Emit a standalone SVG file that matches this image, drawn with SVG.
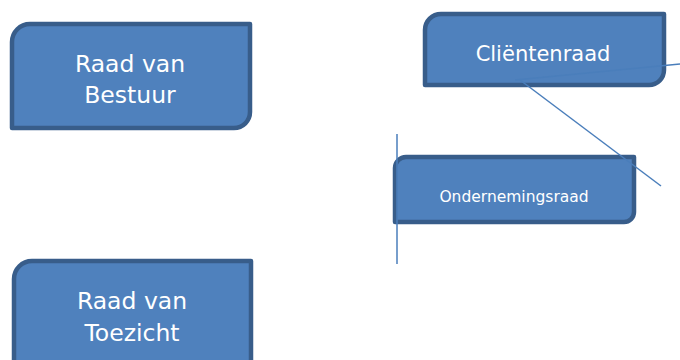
<svg xmlns="http://www.w3.org/2000/svg" width="680" height="360" viewBox="0 0 680 360">
<style>
.box{fill:#4F81BD;stroke:#385D8A;stroke-width:4.5;stroke-linejoin:round}
.t{font-family:"DejaVu Sans",Verdana,sans-serif;fill:#FFFFFF;text-anchor:middle}
.c{stroke:#4A7EBB;stroke-width:1.5;fill:none}
</style>
<rect width="680" height="360" fill="#FFFFFF"/>
<g id="raad-van-bestuur">
<path class="box" d="M12 128 L12 42 A18 18 0 0 1 30 24 L250 24 L250 112 A16 16 0 0 1 234 128 Z"/>
<text class="t" font-size="23.5" x="130" y="72">Raad van</text>
<text class="t" font-size="23.5" x="130" y="103">Bestuur</text>
</g>
<g id="raad-van-toezicht">
<path class="box" d="M14 380 L14 279 A18 18 0 0 1 32 261 L251 261 L251 380 Z"/>
<text class="t" font-size="23.5" x="132" y="309">Raad van</text>
<text class="t" font-size="23.5" x="132" y="341">Toezicht</text>
</g>
<g id="clientenraad">
<path class="box" d="M425 85 L425 30 A16 16 0 0 1 441 14 L664 14 L664 70 A15 15 0 0 1 649 85 Z"/>
<text class="t" font-size="21" x="543" y="61">Cliëntenraad</text>
</g>
<g id="ondernemingsraad">
<path class="box" d="M395 222 L395 168 A11 11 0 0 1 406 157 L634 157 L634 212 A10 10 0 0 1 624 222 Z"/>
<text class="t" font-size="15.5" x="514" y="202">Ondernemingsraad</text>
</g>
<g id="connectors">
<line class="c" x1="520" y1="80" x2="661" y2="186"/>
<line class="c" x1="515" y1="80" x2="680" y2="64"/>
<line class="c" x1="397" y1="134" x2="397" y2="264"/>
</g>
</svg>
